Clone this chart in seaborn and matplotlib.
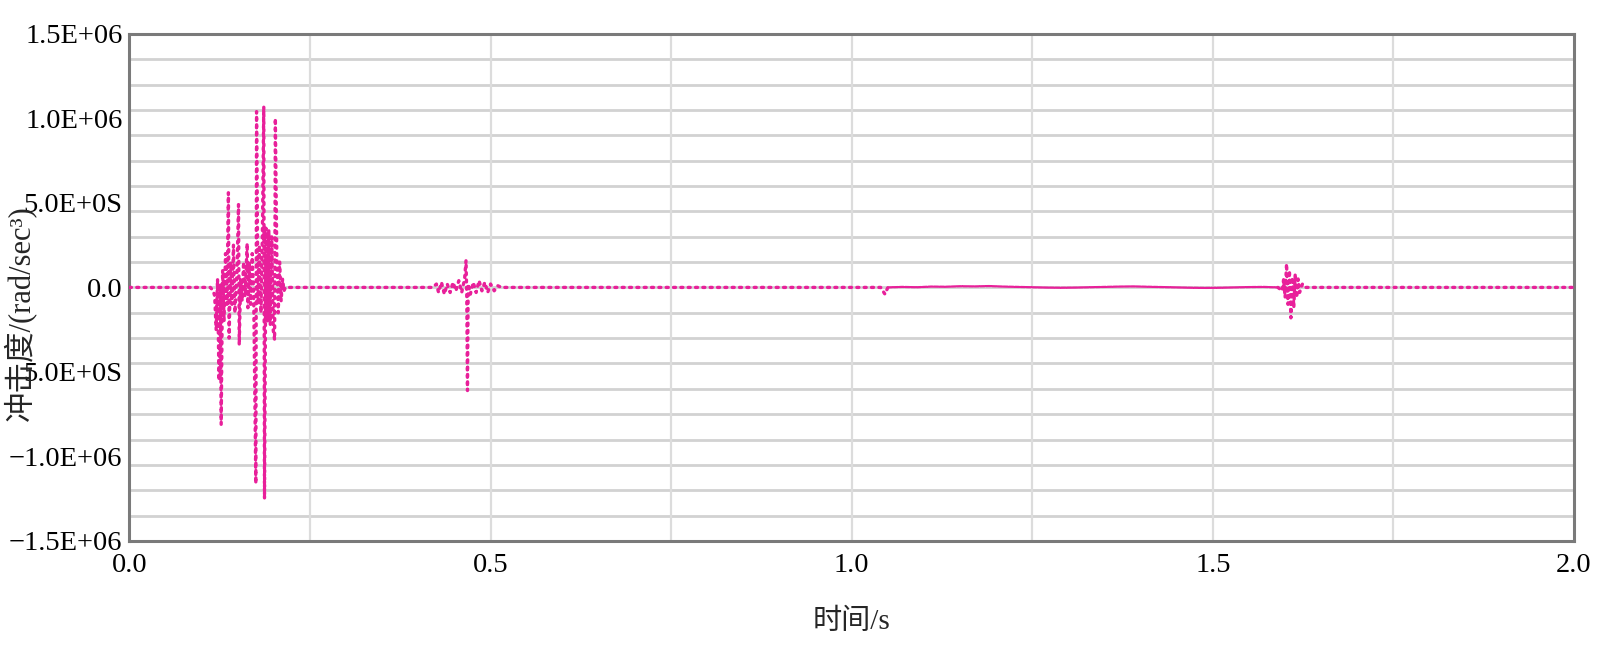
import matplotlib
matplotlib.use("Agg")
import matplotlib.pyplot as plt
import seaborn as sns
import pandas as pd

# ---- data (time in s, jerk in rad/sec^3) ----
burst_t = [0.000, 0.112, 0.116, 0.118, 0.120, 0.122, 0.124, 0.126, 0.127, 0.129,
           0.131, 0.133, 0.135, 0.137, 0.138, 0.140, 0.142, 0.144, 0.146, 0.149,
           0.151, 0.152, 0.154, 0.156, 0.158, 0.160, 0.163, 0.164, 0.166, 0.168,
           0.170, 0.172, 0.175, 0.176, 0.178, 0.180, 0.182, 0.184, 0.186, 0.187,
           0.189, 0.191, 0.193, 0.195, 0.197, 0.199, 0.201, 0.202, 0.204, 0.206,
           0.208, 0.210, 0.212, 0.214, 0.216,
           0.420, 0.425, 0.428, 0.432, 0.436, 0.440, 0.444, 0.448, 0.452, 0.456,
           0.460, 0.464, 0.466, 0.467, 0.468, 0.469, 0.472, 0.476, 0.480, 0.484,
           0.488, 0.492, 0.496, 0.500, 0.505, 0.510, 0.515, 1.040, 1.046, 1.050]
burst_v = [0.0, 0.0, -2.0e4, -5.0e4, -2.5e5, 5.0e4, -5.5e5, 2.0e4, -8.1e5, 1.0e5,
           -2.0e5, 2.0e5, -1.0e5, 5.6e5, -3.0e5, 1.5e5, -1.0e5, 2.5e5, -1.5e5, 1.0e5,
           4.9e5, -3.4e5, 5.0e4, -8.0e4, 1.5e5, -5.0e4, 2.6e5, -1.2e5, 1.5e5, -1.0e5,
           2.0e5, -5.0e4, -1.16e6, 1.04e6, -1.0e5, 2.5e5, -1.5e5, 3.0e5, 1.07e6, -1.25e6,
           3.5e5, -2.0e5, 3.4e5, -2.2e5, 3.0e5, -2.5e5, -3.1e5, 1.0e6, 2.0e5, -1.5e5,
           1.5e5, -8.0e4, 5.0e4, -2.0e4, 0.0,
           0.0, 2.0e4, -3.0e4, 3.0e4, -4.0e4, 2.0e4, -3.0e4, 3.0e4, -2.0e4, 4.0e4,
           -3.0e4, 5.0e4, 1.6e5, -5.0e4, -6.1e5, 2.0e4, -4.0e4, 3.0e4, -3.0e4, 4.0e4,
           -2.0e4, 3.0e4, -3.0e4, 2.0e4, -2.0e4, 1.0e4, 0.0, 0.0, -4.0e4, 0.0]

calm_t = [1.050, 1.070, 1.090, 1.110, 1.130, 1.150, 1.170, 1.190, 1.210, 1.230,
          1.250, 1.270, 1.290, 1.310, 1.330, 1.350, 1.370, 1.390, 1.410, 1.430,
          1.450, 1.470, 1.490, 1.510, 1.530, 1.550, 1.570, 1.590]
calm_v = [0.0, 3.0e3, 1.0e3, 5.0e3, 4.0e3, 7.0e3, 6.0e3, 8.0e3, 5.0e3, 3.0e3,
          1.0e3, -1.0e3, -2.0e3, -1.0e3, 1.0e3, 3.0e3, 5.0e3, 6.0e3, 4.0e3, 2.0e3,
          0.0, -2.0e3, -3.0e3, -2.0e3, 0.0, 2.0e3, 3.0e3, 0.0]

tail_t = [1.590, 1.596, 1.598, 1.600, 1.602, 1.604, 1.606, 1.608, 1.610, 1.612,
          1.614, 1.616, 1.618, 1.620, 1.624, 1.628, 2.000]
tail_v = [0.0, -2.0e4, 5.0e4, -6.0e4, 1.4e5, -1.0e5, 1.0e5, -1.8e5, 6.0e4, -1.2e5,
          8.0e4, -6.0e4, 5.0e4, -3.0e4, 2.0e4, 0.0, 0.0]

ytick_vals = [-1.5e6, -1.0e6, -5.0e5, 0.0, 5.0e5, 1.0e6, 1.5e6]
ytick_labels = ["\u22121.5E+06", "\u22121.0E+06", "5.0E+0S", "0.0", "5.0E+0S", "1.0E+06", "1.5E+06"]
ytick_minor = [-1.25e6, -7.5e5, -2.5e5, 2.5e5, 7.5e5, 1.25e6]
xtick_vals = [0.0, 0.5, 1.0, 1.5, 2.0]
xtick_labels = ["0.0", "0.5", "1.0", "1.5", "2.0"]

sns.set_style("white")
plt.rcParams['font.family'] = ['Liberation Serif', 'Noto Sans CJK SC', 'DejaVu Sans']

fig = plt.figure(figsize=(15.98, 6.51), dpi=100)
ax = fig.add_axes([0.081, 0.169, 0.904, 0.779])

color = "#E8209A"
df_main = pd.DataFrame({"t": burst_t, "v": burst_v})
df_calm = pd.DataFrame({"t": calm_t, "v": calm_v})
df_tail = pd.DataFrame({"t": tail_t, "v": tail_v})

sns.lineplot(data=df_main, x="t", y="v", ax=ax, sort=False, estimator=None,
             color=color, linewidth=2.4, linestyle=(0, (0.6, 1.6)), zorder=3)
sns.lineplot(data=df_calm, x="t", y="v", ax=ax, sort=False, estimator=None,
             color=color, linewidth=1.6, linestyle=(0, (2.0, 0.6)), zorder=3)
sns.lineplot(data=df_tail, x="t", y="v", ax=ax, sort=False, estimator=None,
             color=color, linewidth=2.4, linestyle=(0, (0.6, 1.6)), zorder=3)
for l in ax.get_lines():
    l.set_dash_capstyle("round")

ax.set_xlim(0, 2.0)
ax.set_ylim(-1.5e6, 1.5e6)

# horizontal grid every 1.5e5 and vertical grid every 0.25 s
for yv in [k * 1.5e5 for k in range(-9, 10)]:
    ax.axhline(yv, color="#d2d2d2", linewidth=2.0, zorder=0)
for xv in [0.25, 0.5, 0.75, 1.0, 1.25, 1.5, 1.75]:
    ax.axvline(xv, color="#dcdcdc", linewidth=1.6, zorder=0)

ax.set_yticks(ytick_vals)
ax.set_yticklabels(ytick_labels)
ax.set_yticks(ytick_minor, minor=True)
ax.set_xticks(xtick_vals)
ax.set_xticklabels(xtick_labels)
ax.tick_params(axis="both", which="major", labelsize=20.5, length=4, width=2,
               color="#808080", labelcolor="black")
ax.tick_params(axis="y", which="major", pad=1)
ax.tick_params(axis="x", which="major", pad=5)
ax.tick_params(axis="y", which="minor", length=4, width=2, color="#808080")

for s in ax.spines.values():
    s.set_color("#7a7a7a")
    s.set_linewidth(2.2)
    s.set_visible(True)

ax.set_xlabel("时间/s", fontsize=21, labelpad=22)
ax.set_ylabel("冲击度/(rad/sec\u00b3)", fontsize=22)
ax.yaxis.set_label_coords(-0.0645, 0.45)

fig.savefig("out.png", dpi=100, facecolor="white")
